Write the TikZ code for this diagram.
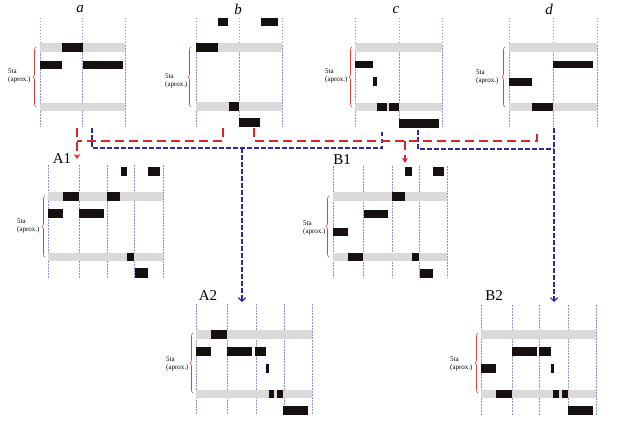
\documentclass[tikz,border=0pt]{standalone}
\usepackage{fontspec}
\setmainfont{Liberation Serif}
\usetikzlibrary{arrows.meta,decorations.pathreplacing}
\definecolor{gridc}{RGB}{140,150,215}
\definecolor{grayc}{RGB}{218,218,218}
\definecolor{blkc}{RGB}{22,16,16}
\definecolor{redc}{RGB}{225,35,40}
\definecolor{bluec}{RGB}{45,45,150}
\definecolor{bracec}{RGB}{205,70,70}
\tikzset{
  gline/.style={draw=gridc,line width=0.5pt,dash pattern=on 1.5pt off 1.5pt},
  gbar/.style={fill=grayc},
  bbar/.style={fill=blkc},
  rconn/.style={draw=redc,line width=1.6pt,dash pattern=on 9pt off 5pt},
  bconn/.style={draw=bluec,line width=1.1pt,dash pattern=on 4.5pt off 2.5pt},
  rtip/.style={-{Stealth[length=5pt,width=6pt]}},
  btip/.style={-{Straight Barb[length=3.5pt,width=7pt,line width=1.2pt]}},
  bracel/.style={draw=bracec,line width=0.6pt,decorate,decoration={brace,amplitude=3pt}},
  toplbl/.style={font=\fontsize{15}{15}\selectfont\itshape,inner sep=0pt},
  reslbl/.style={font=\fontsize{15}{15}\selectfont,inner sep=0pt},
  note/.style={font=\fontsize{7}{8}\selectfont,align=left,anchor=west,inner sep=0pt},
}
\begin{document}
\begin{tikzpicture}[x=1pt,y=-1pt]
\useasboundingbox (0,0) rectangle (617,428);

% ---------- panel a ----------
\foreach \x in {40,82.5,125} \draw[gline] (\x,18) -- (\x,127);
\fill[gbar] (40,43) rectangle (125,52);
\fill[gbar] (40,103) rectangle (125,111);
\fill[bbar] (62,43) rectangle (82.5,52);
\fill[bbar] (40,61) rectangle (62,69);
\fill[bbar] (83,61) rectangle (123,69);
\draw[bracel] (36,107) -- (36,47);
\node[note] (na) at (8,76) {5ta\\(aprox.)};
\node[toplbl] (la) at (80,9) {a};

% ---------- panel b ----------
\foreach \x in {196,239,282} \draw[gline] (\x,18) -- (\x,127);
\fill[gbar] (196,43) rectangle (282,52);
\fill[gbar] (196,102) rectangle (282,111);
\fill[bbar] (218,18) rectangle (228,26);
\fill[bbar] (261,18) rectangle (278,26);
\fill[bbar] (196,43) rectangle (218,52);
\fill[bbar] (229,102) rectangle (239,111);
\fill[bbar] (239,118) rectangle (260,127);
\draw[bracel] (191,107) -- (191,47);
\node[note] (nb) at (165,81) {5ta\\(aprox.)};
\node[toplbl] (lb) at (238,9) {b};

% ---------- panel c ----------
\foreach \x in {355,399,442} \draw[gline] (\x,18) -- (\x,127);
\fill[gbar] (355,43) rectangle (442,52);
\fill[gbar] (355,103) rectangle (442,111);
\fill[bbar] (355,61) rectangle (373,68);
\fill[bbar] (373,77) rectangle (377,86);
\fill[bbar] (377,103) rectangle (387,111);
\fill[bbar] (389,103) rectangle (399,111);
\fill[bbar] (399,119) rectangle (439,128);
\draw[bracel] (352,107) -- (352,47);
\node[note] (nc) at (325,76) {5ta\\(aprox.)};
\node[toplbl] (lc) at (396,10) {c};

% ---------- panel d ----------
\foreach \x in {509,553,597} \draw[gline] (\x,18) -- (\x,127);
\fill[gbar] (509,43) rectangle (597,52);
\fill[gbar] (509,103) rectangle (597,111);
\fill[bbar] (553,61) rectangle (593,68);
\fill[bbar] (509,78) rectangle (532,86);
\fill[bbar] (532,103) rectangle (553,111);
\draw[bracel] (505,107) -- (505,47);
\node[note] (nd) at (476,77) {5ta\\(aprox.)};
\node[toplbl] (ld) at (549,9) {d};

% ---------- panel A1 ----------
\foreach \x in {48,79,107,134,163} \draw[gline] (\x,165) -- (\x,278);
\fill[gbar] (48,192) rectangle (163,201);
\fill[gbar] (48,253) rectangle (163,261);
\fill[bbar] (121,167) rectangle (127,176);
\fill[bbar] (148,167) rectangle (160,176);
\fill[bbar] (63,192) rectangle (79,201);
\fill[bbar] (107,192) rectangle (120,201);
\fill[bbar] (48,209) rectangle (63,218);
\fill[bbar] (79,209) rectangle (104,218);
\fill[bbar] (127,253) rectangle (134,261);
\fill[bbar] (135,268) rectangle (148,278);
\draw[bracel] (45,257) -- (45,196);
\node[note] (nA1) at (17,226) {5ta\\(aprox.)};
\node[reslbl] (lA1) at (62,159) {A1};

% ---------- panel B1 ----------
\foreach \x in {333,363,392,419,447} \draw[gline] (\x,166) -- (\x,278);
\fill[gbar] (333,192) rectangle (447,201);
\fill[gbar] (333,253) rectangle (447,261);
\fill[bbar] (405,167) rectangle (412,176);
\fill[bbar] (433,167) rectangle (444,176);
\fill[bbar] (392,192) rectangle (405,201);
\fill[bbar] (364,210) rectangle (388,218);
\fill[bbar] (333,228) rectangle (348,236);
\fill[bbar] (348,253) rectangle (363,261);
\fill[bbar] (412,253) rectangle (419,261);
\fill[bbar] (420,269) rectangle (433,278);
\draw[bracel] (329,257) -- (329,196);
\node[note] (nB1) at (303,228) {5ta\\(aprox.)};
\node[reslbl] (lB1) at (342,160) {B1};

% ---------- panel A2 ----------
\foreach \x in {196,227,256,284,312} \draw[gline] (\x,304) -- (\x,415);
\fill[gbar] (196,330) rectangle (312,339);
\fill[gbar] (196,390) rectangle (312,398);
\fill[bbar] (211,330) rectangle (227,339);
\fill[bbar] (196,347) rectangle (211,356);
\fill[bbar] (227,347) rectangle (252,356);
\fill[bbar] (255,347) rectangle (266,356);
\fill[bbar] (266,364) rectangle (269,373);
\fill[bbar] (269,390) rectangle (274,398);
\fill[bbar] (277,390) rectangle (283,398);
\fill[bbar] (283,406) rectangle (308,415);
\draw[bracel] (193,393) -- (193,333);
\node[note] (nA2) at (166,364) {5ta\\(aprox.)};
\node[reslbl] (lA2) at (208,296) {A2};

% ---------- panel B2 ----------
\foreach \x in {481,512,539,568,596} \draw[gline] (\x,305) -- (\x,415);
\fill[gbar] (481,330) rectangle (596,339);
\fill[gbar] (481,390) rectangle (596,398);
\fill[bbar] (512,347) rectangle (537,356);
\fill[bbar] (539,347) rectangle (551,356);
\fill[bbar] (551,364) rectangle (554,373);
\fill[bbar] (481,364) rectangle (496,373);
\fill[bbar] (496,390) rectangle (512,398);
\fill[bbar] (553,390) rectangle (559,398);
\fill[bbar] (562,390) rectangle (568,398);
\fill[bbar] (568,406) rectangle (593,415);
\draw[bracel] (478,393) -- (478,333);
\node[note] (nB2) at (450,364) {5ta\\(aprox.)};
\node[reslbl] (lB2) at (494,296) {B2};

% ---------- connectors ----------
\coordinate (aR) at (77,128);
\coordinate (bR1) at (223,128);
\coordinate (bR2) at (254,128);
\coordinate (dR) at (537,130);
\coordinate (aB) at (92,128);
\coordinate (cB1) at (382,130);
\coordinate (cB2) at (418,130);
\coordinate (dB) at (554,128);
\coordinate (jR1) at (77,141);
\coordinate (jR2) at (405,141);
\coordinate (jB1) at (242,148);
\coordinate (jB2) at (554,149);
\coordinate (A1in) at (77,159);
\coordinate (B1in) at (405,163);
\coordinate (A2in) at (242,302);
\coordinate (B2in) at (554,302);

\draw[bconn] (aB) |- (jB1) -| (cB1);
\draw[bconn,btip] (jB1) -- (A2in);
\draw[bconn] (cB2) |- (jB2);
\draw[bconn,btip] (dB) -- (B2in);

\draw[rconn,rtip] (aR) -- (A1in);
\draw[rconn] (bR1) |- (jR1);
\draw[rconn] (bR2) |- (jR2) -| (dR);
\draw[rconn,rtip] (jR2) -- (B1in);
\end{tikzpicture}
\end{document}
